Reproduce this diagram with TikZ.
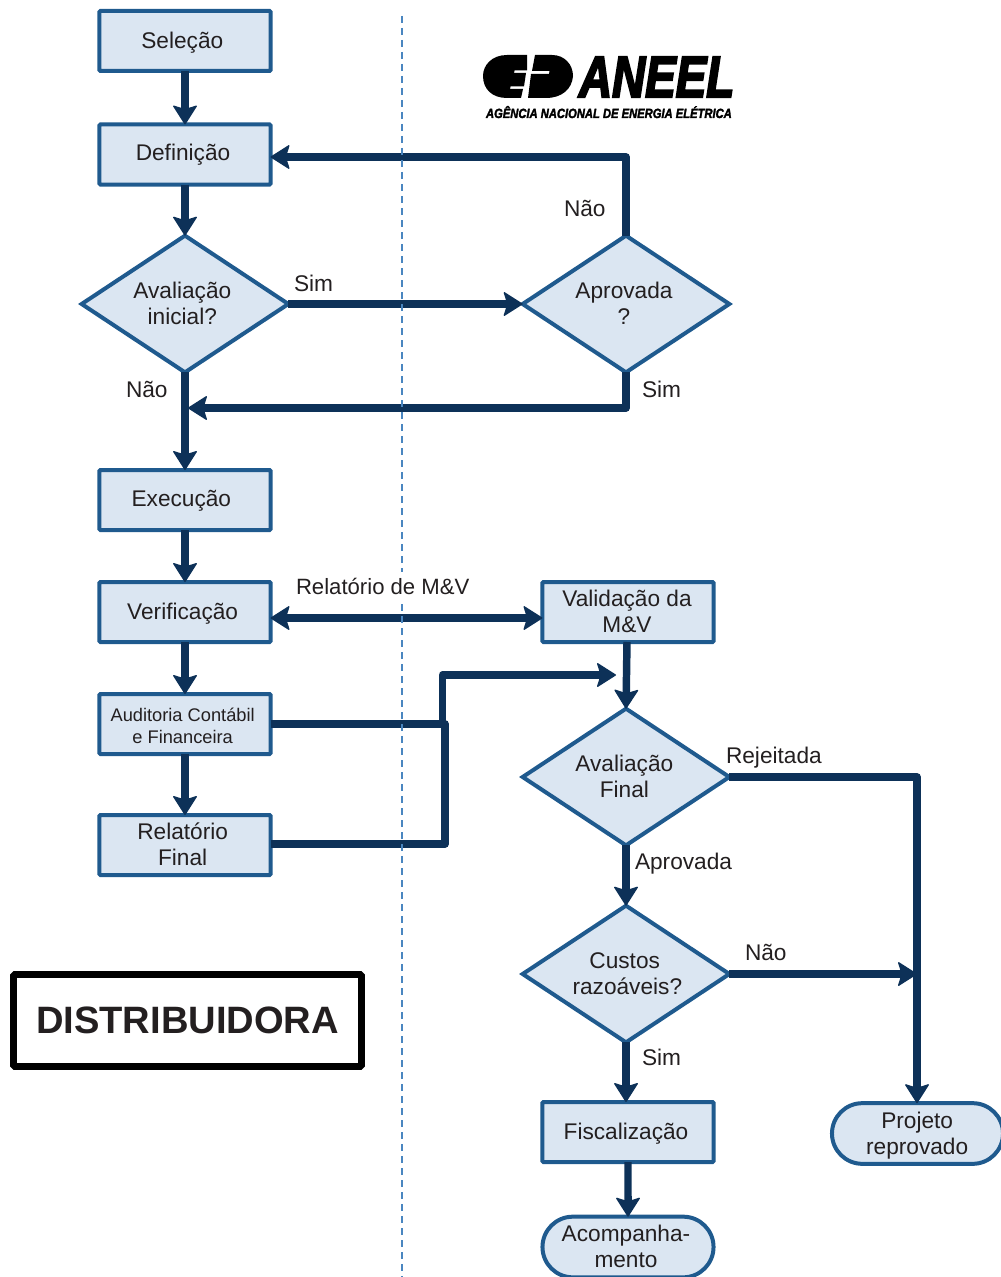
\documentclass[tikz,border=0pt]{standalone}
\usepackage{fontspec}
\setmainfont{Liberation Sans}
\newfontfamily\logof[UprightFont=* Bold Italic,FakeBold=4]{Liberation Sans}
\newfontfamily\logofs[UprightFont=* Bold Italic,FakeBold=2.5]{Liberation Sans}
\usetikzlibrary{arrows.meta,shapes.geometric,shapes.misc}
\definecolor{boxfill}{HTML}{DBE6F2}
\definecolor{boxline}{HTML}{1F5A8E}
\definecolor{conn}{HTML}{0D3158}
\definecolor{txt}{HTML}{231F20}
\definecolor{sep}{HTML}{4A86C0}
% one line of box text: #1 = how far it sits below the centre, #2 = how far left (twice)
\newcommand{\tl}[3][0pt]{\raisebox{-#1}[\height][\depth]{#3}\hspace*{#2}}
\tikzset{
 x=0.75pt,y=-0.75pt,
 every node/.style={text=txt,font=\fontsize{17}{19.5}\selectfont,align=center,inner sep=0pt,outer sep=0pt},
 stepbox/.style={draw=boxline,fill=boxfill,line width=3pt,minimum width=128.3pt,minimum height=45pt,rounded corners=0.8pt},
 decision/.style={draw=boxline,fill=boxfill,line width=3pt,diamond,aspect=1.5,minimum width=155pt,minimum height=102.5pt,inner sep=0pt},
 endbox/.style={draw=boxline,fill=boxfill,line width=3pt,rounded rectangle,minimum width=128.3pt,minimum height=45.5pt},
 flow/.style={draw=conn,line width=5.6pt,line join=round,-{Stealth[length=15pt,width=19pt,inset=3pt,line width=1pt,round]}},
 flowboth/.style={draw=conn,line width=5.6pt,{Stealth[length=15pt,width=19pt,inset=3pt,line width=1pt,round]}-{Stealth[length=15pt,width=19pt,inset=3pt,line width=1pt,round]}},
 plainflow/.style={draw=conn,line width=5.6pt,line join=round},
 lab/.style={anchor=base west},
}
\begin{document}
\begin{tikzpicture}
\useasboundingbox (0,0) rectangle (1000,1277);

% logo
\fill[black] (527,55) -- (507,55) .. controls (492,55) and (483,65) .. (483,76) .. controls (483,89) and (492,98) .. (507,98) -- (521,98) -- (523,89) -- (510,89) -- (510.5,86.5) -- (524,86.5) -- (526,73) -- (514,73) -- (514.5,70.5) -- (527,70.5) -- cycle;
\fill[black] (535,55) -- (552,55) .. controls (565,55) and (573,65) .. (573,76) .. controls (572,89) and (562,98) .. (546,98) -- (528,98) -- (531,74) -- (549,74) -- (549.5,71) -- (532,71) -- cycle;
\node[text=black,font=\logof\fontsize{43.5}{44}\selectfont,anchor=base west,xscale=0.79] (logoname) at (579,97) {ANEEL};
\node[text=black,font=\logofs\fontsize{10}{10}\selectfont,anchor=base west,xscale=0.84] (logosub) at (486,118) {AGÊNCIA NACIONAL DE ENERGIA ELÉTRICA};

% nodes
\node[stepbox] (selecao) at (185,41) {\tl[1.5pt]{4pt}{Seleção}};
\node[stepbox] (definicao) at (185,154.5) {\tl[0.4pt]{3pt}{Definição}};
\node[decision] (avalini) at (185,304) {\tl[-0.7pt]{4pt}{Avaliação}\\\tl[-0.7pt]{4pt}{inicial?}};
\node[decision] (aprovada) at (626,304) {\tl[-0.7pt]{3pt}{Aprovada}\\\tl[-0.7pt]{3pt}{?}};
\node[stepbox] (execucao) at (185,500) {\tl[0.6pt]{5.5pt}{Execução}};
\node[stepbox] (verif) at (185,612) {\tl[1.5pt]{3.5pt}{Verificação}};
\node[stepbox,font=\fontsize{13.7}{16.5}\selectfont] (audit) at (185,724) {\tl[1.5pt]{3.5pt}{Auditoria Contábil}\\\tl[1.5pt]{3.5pt}{e Financeira}};
\node[stepbox] (relat) at (185,845) {\tl[-0.7pt]{3.5pt}{Relatório}\\\tl[-0.7pt]{3.5pt}{Final}};
\node[stepbox] (valid) at (628,612) {\tl[-0.7pt]{1.5pt}{Validação da}\\\tl[-0.7pt]{1.5pt}{M\&V}};
\node[decision] (avalfin) at (626,777) {\tl[-0.7pt]{2.5pt}{Avaliação}\\\tl[-0.7pt]{2.5pt}{Final}};
\node[decision] (custos) at (626,974) {\tl{2pt}{Custos}\\\tl{-2pt}{razoáveis?}};
\node[stepbox] (fisc) at (628,1132) {\tl[1.5pt]{3pt}{Fiscalização}};
\node[endbox] (acomp) at (628,1247) {\tl[-0.7pt]{3pt}{Acompanha-}\\\tl[-0.7pt]{3pt}{mento}};
\node[endbox] (projeto) at (917.5,1133.5) {\tl[1.3pt]{0.5pt}{Projeto}\\\tl[1.3pt]{0.5pt}{reprovado}};
\node[draw=black,line width=5pt,rounded corners=1pt,minimum width=261pt,minimum height=69pt,font=\fontsize{28.6}{30}\selectfont\bfseries] (dist) at (187.5,1020.5) {DISTRIBUIDORA};

% free-end coordinates
\coordinate (jdefin) at (626,157);
\coordinate (jret) at (626,408);
\coordinate (jretend) at (188,408);
\coordinate (jmv) at (402,618);
\coordinate (jaudit) at (445,724);
\coordinate (jrel) at (445,844);
\coordinate (jup) at (442.5,675);
\coordinate (jupbase) at (442.5,724);
\coordinate (jupend) at (616,675);
\coordinate (jrej) at (917,777);
\coordinate (jno) at (917,974);

% connectors
\draw[flow] (selecao) -- (definicao);
\draw[flow] (definicao) -- (avalini);
\draw[flow] (avalini) -- (aprovada);
\draw[flow] (avalini) -- (execucao);
\draw[flow] (aprovada.north) -- (jdefin) -- (definicao.east |- jdefin);
\draw[flow] (aprovada.south) -- (jret) -- (jretend);
\draw[flow] (execucao) -- (verif);
\draw[flow] (verif) -- (audit);
\draw[flow] (audit) -- (relat);
\draw[flowboth] (verif.east |- jmv) -- (valid.west |- jmv);
\draw[plainflow] (audit.east |- jaudit) -- (jaudit) -- (jrel) -- (relat.east |- jrel);
\draw[flow] (jupbase) -- (jup) -- (jupend);
\draw[flow] (valid.south -| avalfin) ++(1,0) -- (avalfin.north);
\draw[flow] (avalfin) -- (custos);
\draw[flow] (avalfin.east) -- (jrej) -- (projeto.north -| jrej);
\draw[flow] (custos.east) -- (jno);
\draw[flow] (custos) -- (custos.south |- fisc.north);
\draw[flow] (fisc) -- (acomp);

% separator
\draw[draw=sep,line width=1.1pt,dash pattern=on 5.5pt off 3.5pt] (402,16) -- (402,1277);

% labels
\node[lab] (l1) at (294,291) {Sim};
\node[lab] (l2) at (564,216) {Não};
\node[lab] (l3) at (126,397) {Não};
\node[lab] (l4) at (642,397) {Sim};
\node[anchor=base west,fill=white,inner ysep=4pt,font=\fontsize{16.6}{19.5}\selectfont] (l5) at (296,594) {Relatório de M\&V};
\node[lab] (l6) at (726,763) {Rejeitada};
\node[lab] (l7) at (635,869) {Aprovada};
\node[lab] (l8) at (745,960) {Não};
\node[lab] (l9) at (642,1065) {Sim};
\end{tikzpicture}
\end{document}
